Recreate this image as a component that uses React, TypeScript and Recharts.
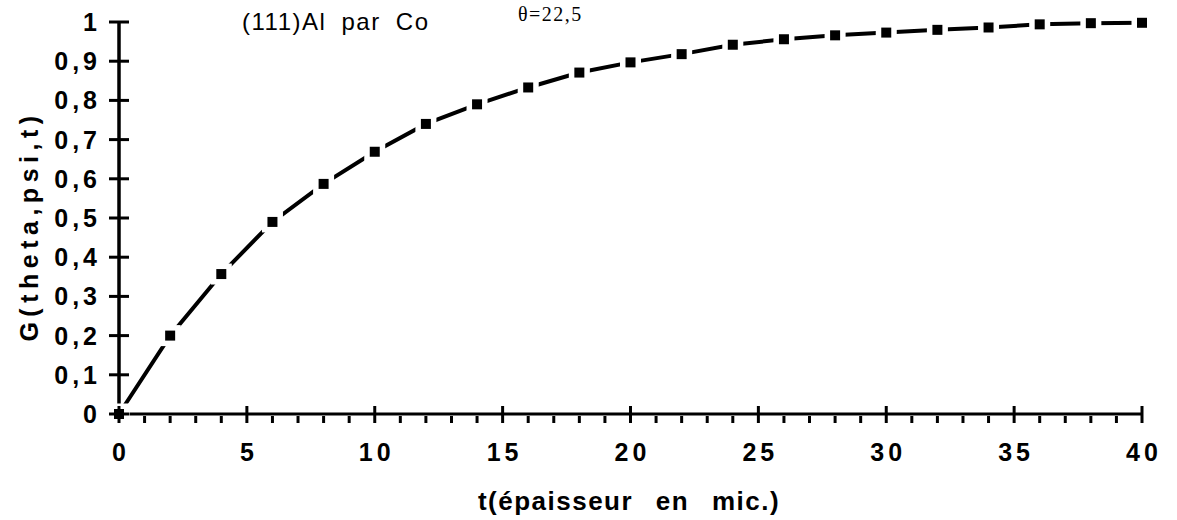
import { LineChart, Line, XAxis, YAxis } from 'recharts';

// t (épaisseur, microns) and G(theta,psi,t)
const thickness = [0, 2, 4, 6, 8, 10, 12, 14, 16, 18, 20, 22, 24, 26, 28, 30, 32, 34, 36, 38, 40];
const gValues = [
  0, 0.2, 0.357, 0.49, 0.587, 0.669, 0.74, 0.79, 0.833, 0.871, 0.897, 0.918, 0.942, 0.956,
  0.966, 0.973, 0.98, 0.986, 0.994, 0.997, 0.998,
];

const xMajorTicks = [0, 5, 10, 15, 20, 25, 30, 35, 40];
const xAllTicks = Array.from({ length: 41 }, (_, i) => i);
const yTicks = [0, 0.1, 0.2, 0.3, 0.4, 0.5, 0.6, 0.7, 0.8, 0.9, 1];

const data = thickness.map((t, i) => ({ t, g: gValues[i] }));

const BOLD = '"Liberation Sans", Arial, Helvetica, sans-serif';

const fmtY = (v: number) => (v === 0 ? '0' : v === 1 ? '1' : v.toFixed(1).replace('.', ','));

const XTick = (props: any) => {
  const { x, y, payload } = props;
  const v = payload.value;
  const major = xMajorTicks.includes(v);
  return (
    <g>
      {major ? (
        <line x1={x} x2={x} y1={y - 8} y2={y + 9} stroke="#000" strokeWidth={3} />
      ) : (
        <line x1={x} x2={x} y1={y + 2} y2={y + 9} stroke="#000" strokeWidth={3} />
      )}
      {major && (
        <text
          x={x + 2}
          y={y + 47}
          textAnchor="middle"
          fontFamily={BOLD}
          fontWeight="bold"
          fontSize={25}
          letterSpacing={4}
          fill="#000"
        >
          {v}
        </text>
      )}
    </g>
  );
};

const YTick = (props: any) => {
  const { x, y, payload } = props;
  return (
    <g>
      <line x1={x - 10} x2={x + 10} y1={y} y2={y} stroke="#000" strokeWidth={3} />
      <text
        x={x - 18}
        y={y + 9}
        textAnchor="end"
        fontFamily={BOLD}
        fontWeight="bold"
        fontSize={25}
        letterSpacing={4}
        fill="#000"
      >
        {fmtY(payload.value)}
      </text>
    </g>
  );
};

const SquareDot = (props: any) => {
  const { cx, cy, index } = props;
  if (cx == null || cy == null) return null;
  return (
    <rect
      key={`dot-${index}`}
      x={cx - 5}
      y={cy - 5}
      width={10}
      height={10}
      fill="#000"
      stroke="#fff"
      strokeWidth={11}
      paintOrder="stroke"
    />
  );
};

export default function App() {
  return (
    <div style={{ position: 'absolute', left: 0, top: 0, width: 1177, height: 520, background: '#fff' }}>
      <LineChart
        width={1177}
        height={520}
        data={data}
        margin={{ top: 22, right: 35, left: 0, bottom: 0 }}
      >
        <XAxis
          dataKey="t"
          type="number"
          domain={[0, 40]}
          ticks={xAllTicks}
          interval={0}
          tick={<XTick />}
          tickLine={false}
          tickSize={0}
          tickMargin={0}
          height={106}
          axisLine={{ stroke: '#000', strokeWidth: 3 }}
        />
        <YAxis
          type="number"
          domain={[0, 1]}
          ticks={yTicks}
          interval={0}
          tick={<YTick />}
          tickLine={false}
          tickSize={0}
          tickMargin={0}
          width={119}
          axisLine={{ stroke: '#000', strokeWidth: 3.5 }}
        />
        <Line
          type="linear"
          dataKey="g"
          stroke="#000"
          strokeWidth={4}
          dot={SquareDot}
          activeDot={false}
          isAnimationActive={false}
        />
      </LineChart>
      <svg
        width={1177}
        height={520}
        style={{ position: 'absolute', left: 0, top: 0, pointerEvents: 'none' }}
      >
        <text
          x={242}
          y={30}
          fontFamily='"Liberation Sans", Arial, sans-serif'
          fontSize={24}
          letterSpacing={1.5}
          wordSpacing={7}
          fill="#000"
        >
          (111)Al par Co
        </text>
        <text
          x={518}
          y={21}
          fontFamily='"Liberation Serif", "Times New Roman", serif'
          fontSize={20}
          letterSpacing={1.5}
          fill="#000"
        >
          θ=22,5
        </text>
        <text
          x={629}
          y={510}
          textAnchor="middle"
          fontFamily={BOLD}
          fontWeight="bold"
          fontSize={26}
          letterSpacing={1.5}
          wordSpacing={14}
          fill="#000"
        >
          t(épaisseur en mic.)
        </text>
        <text
          x={0}
          y={0}
          transform="translate(38,226) rotate(-90)"
          textAnchor="middle"
          fontFamily={BOLD}
          fontWeight="bold"
          fontSize={25}
          letterSpacing={5.5}
          fill="#000"
        >
          G(theta,psi,t)
        </text>
      </svg>
    </div>
  );
}
